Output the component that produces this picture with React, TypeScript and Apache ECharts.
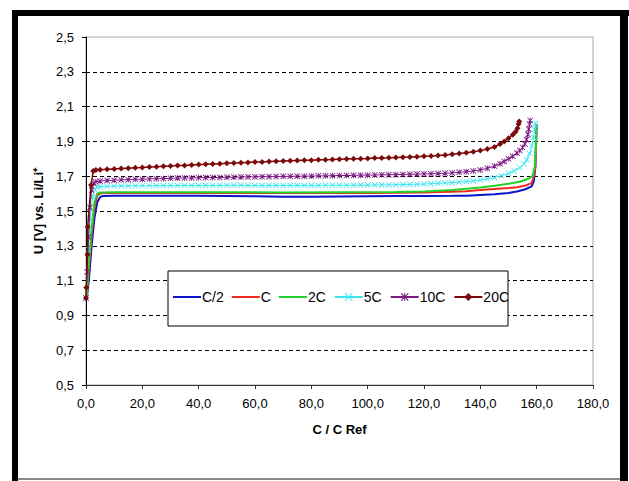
import React, { useEffect, useRef } from "react";
import * as echarts from "echarts";

const seriesNames = ["C/2", "C", "2C", "5C", "10C", "20C"];
const seriesColors = ["#0a14c8", "#ee2a22", "#22d22a", "#3fe6f0", "#7a1a82", "#7d0a0a"];

const xTicks = { min: 0, max: 180, interval: 20 };
const yTicks = { min: 0.5, max: 2.5, interval: 0.2 };

const dataC2: [number, number][] = [
  [0.3, 1.0], [1, 1.1], [2, 1.3], [3, 1.46], [4, 1.55], [5, 1.58], [6, 1.586], [10, 1.587], [20, 1.587],
  [30, 1.588], [40, 1.587], [50, 1.586], [60, 1.585], [70, 1.582], [80, 1.582], [90, 1.584], [100, 1.585],
  [110, 1.586], [120, 1.586], [130, 1.587], [135, 1.588], [140, 1.592], [145, 1.596], [150, 1.604],
  [153, 1.612], [156, 1.625], [158.2, 1.642], [159, 1.67], [159.5, 1.75], [159.8, 1.9], [160, 2.0],
];

const dataC: [number, number][] = [
  [0.2, 1.0], [1, 1.16], [2, 1.36], [3, 1.52], [4, 1.59], [5, 1.6], [6, 1.603], [20, 1.604], [40, 1.604],
  [60, 1.603], [80, 1.603], [100, 1.604], [110, 1.605], [120, 1.607], [125, 1.609], [130, 1.611],
  [135, 1.614], [140, 1.62], [145, 1.626], [150, 1.632], [153, 1.637], [156, 1.646], [158.2, 1.66],
  [159, 1.7], [159.5, 1.75], [159.8, 1.9], [160, 2.0],
];

const data2C: [number, number][] = [
  [0.2, 1.0], [1, 1.2], [2, 1.4], [3, 1.55], [4, 1.6], [5, 1.607], [10, 1.608], [30, 1.608], [50, 1.608],
  [70, 1.607], [90, 1.608], [110, 1.609], [120, 1.612], [130, 1.62], [140, 1.635], [145, 1.645],
  [150, 1.657], [154, 1.668], [157, 1.685], [158.5, 1.7], [159.3, 1.75], [159.7, 1.85], [159.9, 2.0],
];

const data5C: [number, number][] = [
  [0, 1.0], [0.8, 1.28], [1.5, 1.45], [2.3, 1.58], [3, 1.625], [4, 1.636], [5, 1.64], [7.5, 1.642],
  [10, 1.643], [12.5, 1.644], [15, 1.644], [17.5, 1.645], [20, 1.645], [22.5, 1.645], [25, 1.646],
  [27.5, 1.646], [30, 1.646], [32.5, 1.646], [35, 1.647], [37.5, 1.647], [40, 1.647], [42.5, 1.647],
  [45, 1.647], [47.5, 1.647], [50, 1.648], [52.5, 1.648], [55, 1.648], [57.5, 1.647], [60, 1.647],
  [62.5, 1.647], [65, 1.647], [67.5, 1.647], [70, 1.647], [72.5, 1.647], [75, 1.647], [77.5, 1.647],
  [80, 1.647], [82.5, 1.647], [85, 1.648], [87.5, 1.648], [90, 1.648], [92.5, 1.648], [95, 1.648],
  [97.5, 1.649], [100, 1.649], [102.5, 1.649], [105, 1.65], [107.5, 1.65], [110, 1.651], [112.5, 1.652],
  [115, 1.653], [117.5, 1.654], [120, 1.655], [122.5, 1.657], [125, 1.659], [127.5, 1.661], [130, 1.663],
  [132.5, 1.666], [135, 1.669], [137.5, 1.673], [140, 1.678], [142.5, 1.684], [145, 1.692], [147.5, 1.703],
  [150, 1.716], [152, 1.73], [154, 1.75], [155.5, 1.77], [156.5, 1.795], [157.5, 1.83], [158.3, 1.875],
  [158.9, 1.925], [159.3, 1.97], [159.6, 2.005],
];

const data10C: [number, number][] = [
  [0, 1.0], [0.4, 1.15], [0.9, 1.35], [1.4, 1.52], [2, 1.62], [2.8, 1.66], [3.5, 1.668], [5, 1.672],
  [7.5, 1.675], [10, 1.677], [12.5, 1.679], [15, 1.68], [17.5, 1.682], [20, 1.683], [22.5, 1.684],
  [25, 1.686], [27.5, 1.686], [30, 1.688], [32.5, 1.689], [35, 1.69], [37.5, 1.69], [40, 1.691],
  [42.5, 1.692], [45, 1.692], [47.5, 1.693], [50, 1.694], [52.5, 1.694], [55, 1.695], [57.5, 1.696],
  [60, 1.696], [62.5, 1.697], [65, 1.697], [67.5, 1.698], [70, 1.699], [72.5, 1.699], [75, 1.7],
  [77.5, 1.7], [80, 1.701], [82.5, 1.702], [85, 1.702], [87.5, 1.703], [90, 1.704], [92.5, 1.704],
  [95, 1.705], [97.5, 1.706], [100, 1.706], [102.5, 1.707], [105, 1.708], [107.5, 1.708], [110, 1.709],
  [112.5, 1.71], [115, 1.711], [117.5, 1.712], [120, 1.713], [122.5, 1.714], [125, 1.715], [127.5, 1.717],
  [130, 1.719], [132.5, 1.722], [135, 1.726], [137.5, 1.73], [140, 1.736], [142.5, 1.745], [145, 1.758],
  [147, 1.772], [148.5, 1.785], [150, 1.8], [151.5, 1.815], [153, 1.833], [154, 1.848], [155, 1.865],
  [155.8, 1.885], [156.4, 1.91], [156.9, 1.94], [157.2, 1.97], [157.5, 2.0], [157.7, 2.02],
];

const data20C: [number, number][] = [
  [0, 1.0], [0.1, 1.06], [0.5, 1.25], [0.6, 1.41], [1.8, 1.65], [2.6, 1.73], [3.5, 1.735], [5, 1.737],
  [7.5, 1.74], [10, 1.742], [12.5, 1.744], [15, 1.746], [17.5, 1.748], [20, 1.75], [22.5, 1.753],
  [25, 1.755], [27.5, 1.757], [30, 1.759], [32.5, 1.761], [35, 1.762], [37.5, 1.765], [40, 1.767],
  [42.5, 1.768], [45, 1.77], [47.5, 1.772], [50, 1.774], [52.5, 1.776], [55, 1.777], [57.5, 1.779],
  [60, 1.781], [62.5, 1.782], [65, 1.784], [67.5, 1.786], [70, 1.787], [72.5, 1.789], [75, 1.79],
  [77.5, 1.791], [80, 1.792], [82.5, 1.794], [85, 1.795], [87.5, 1.796], [90, 1.798], [92.5, 1.799],
  [95, 1.8], [97.5, 1.801], [100, 1.802], [102.5, 1.804], [105, 1.805], [107.5, 1.806], [110, 1.808],
  [112.5, 1.809], [115, 1.81], [117.5, 1.812], [120, 1.814], [122.5, 1.816], [125, 1.819], [127.5, 1.822],
  [130, 1.826], [132.5, 1.83], [135, 1.835], [137.5, 1.84], [140, 1.847], [142.5, 1.856], [145, 1.868],
  [147, 1.885], [148.5, 1.9], [150, 1.918], [151.5, 1.938], [152.5, 1.955], [153.2, 1.975], [153.6, 2.0],
  [153.8, 2.015],
];

const allData = [dataC2, dataC, data2C, data5C, data10C, data20C];

const SYM_X = "path://M0,1L1,0L5,4L9,0L10,1L6,5L10,9L9,10L5,6L1,10L0,9L4,5Z";
const SYM_STAR = "path://M0,1L1,0L5,4L9,0L10,1L6,5L10,9L9,10L5,6L1,10L0,9L4,5Z M4.4,0L5.6,0L5.6,10L4.4,10Z";
const ICON_LINE = "path://M0,0L0.01,0L0.01,0.01L0,0.01Z M0,4L28,4L28,6L0,6Z M27.99,9.99L28,9.99L28,10L27.99,10Z";

const symbols = ["none", "none", "none", SYM_X, SYM_STAR, "diamond"];
const symbolSizes = [0, 0, 0, 6, 6, 6];
const lineWidths = [2, 2, 2, 1, 1, 1.5];

const fmt = (v: number) => v.toFixed(1).replace(".", ",");
const FONT = "Arial, 'Liberation Sans', sans-serif";

export default function App() {
  const ref = useRef<HTMLDivElement>(null);
  useEffect(() => {
    if (!ref.current) return;
    const chart = echarts.init(ref.current, null, { renderer: "svg" });
    chart.setOption({
      animation: false,
      backgroundColor: "#ffffff",
      textStyle: { fontFamily: FONT },
      grid: { left: 86, top: 37, width: 507, height: 348, show: true, borderColor: "#a8a8a8", borderWidth: 1, backgroundColor: "transparent" },
      xAxis: {
        type: "value",
        min: xTicks.min,
        max: xTicks.max,
        interval: xTicks.interval,
        name: "C / C Ref",
        nameLocation: "middle",
        nameGap: 38,
        nameTextStyle: { fontFamily: FONT, fontSize: 13, fontWeight: "bold", color: "#000" },
        axisLine: { show: true, lineStyle: { color: "#333", width: 1 } },
        axisTick: { show: true, length: 4, lineStyle: { color: "#333" } },
        axisLabel: { formatter: fmt, fontFamily: FONT, fontSize: 13, color: "#000", margin: 12 },
        splitLine: { show: false },
      },
      yAxis: {
        type: "value",
        min: yTicks.min,
        max: yTicks.max,
        interval: yTicks.interval,
        name: "U [V] vs. Li/Li\u207A",
        nameLocation: "middle",
        nameRotate: 90,
        nameGap: 39,
        nameTextStyle: { fontFamily: FONT, fontSize: 13, fontWeight: "bold", color: "#000" },
        axisLine: { show: true, lineStyle: { color: "#000", width: 1 } },
        axisTick: { show: true, length: 4, lineStyle: { color: "#000" } },
        axisLabel: { formatter: fmt, fontFamily: FONT, fontSize: 13, color: "#000", margin: 12 },
        splitLine: { show: true, showMinLine: false, showMaxLine: false, lineStyle: { color: "#000", width: 1, type: [4, 3] } },
      },
      legend: {
        left: 173,
        top: 290,
        z: 6,
        itemWidth: 28,
        itemHeight: 10,
        itemGap: 8,
        padding: 0,
        textStyle: { fontFamily: FONT, fontSize: 14, color: "#000", padding: [0, 0, 0, -4] },
        data: seriesNames.map((name, i) =>
          symbols[i] === "none" ? { name, icon: ICON_LINE, itemStyle: { color: seriesColors[i] } } : { name }
        ),
      },
      graphic: [
        { type: "rect", z: 5, shape: { x: 168, y: 271, width: 340, height: 55 }, style: { fill: "#fff", stroke: "#000", lineWidth: 1 } },
        { type: "rect", z: 20, shape: { x: 12, y: 10, width: 617, height: 6 }, style: { fill: "#000" } },
        { type: "rect", z: 20, shape: { x: 12, y: 10, width: 6, height: 471 }, style: { fill: "#000" } },
        { type: "rect", z: 20, shape: { x: 620, y: 10, width: 8, height: 471 }, style: { fill: "#000" } },
        { type: "rect", z: 20, shape: { x: 18, y: 478, width: 602, height: 2 }, style: { fill: "#888" } },
      ],
      series: seriesNames.map((name, i) => ({
        name,
        type: "line",
        data: allData[i],
        symbol: symbols[i],
        symbolSize: symbolSizes[i],
        showSymbol: symbols[i] !== "none",
        color: seriesColors[i],
        itemStyle: { color: seriesColors[i] },
        lineStyle: { color: seriesColors[i], width: lineWidths[i] },
        z: 2 + i * 0.01,
      })),
    });
    return () => chart.dispose();
  }, []);
  return <div ref={ref} style={{ position: "fixed", left: 0, top: 0, width: 629, height: 481 }} />;
}
